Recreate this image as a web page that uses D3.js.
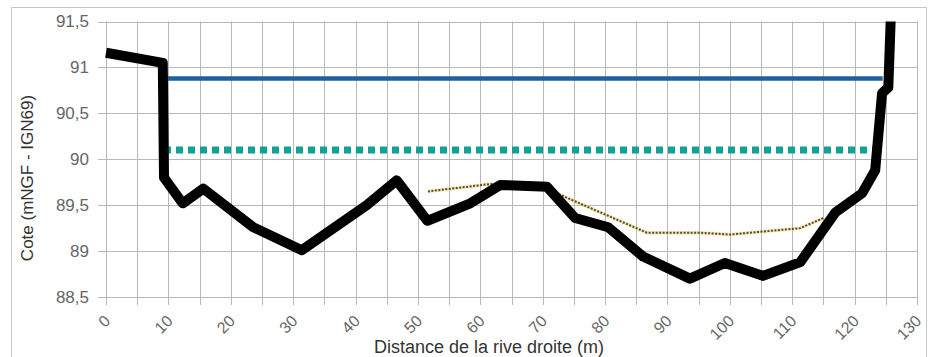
<!DOCTYPE html>
<html>
<head>
<meta charset="utf-8">
<script src="https://cdn.jsdelivr.net/npm/d3@7"></script>
<style>
  html, body { margin: 0; padding: 0; background: #fff; }
  svg { display: block; font-family: "Liberation Sans", Arial, sans-serif; }
</style>
</head>
<body>
<svg id="chart" width="933" height="357"></svg>
<script>
// ---- Data ----
const groundDist = [0, 9.1, 9.3, 12.3, 15.6, 23.6, 31.4, 41.8, 46.6, 51.5, 58.4, 63.2, 70.7, 75.2, 80.5, 86.1, 93.6, 99.2, 105.3, 111.3, 116.9, 121.2, 123.3, 124.4, 125.4, 125.8];
const groundElev = [91.16, 91.05, 89.80, 89.52, 89.68, 89.26, 89.01, 89.50, 89.77, 89.33, 89.52, 89.72, 89.70, 89.36, 89.26, 88.94, 88.70, 88.87, 88.73, 88.88, 89.42, 89.63, 89.88, 90.72, 90.78, 91.55];

const level1Dist = [9.3, 124.5];
const level1Elev = [90.88, 90.88];

const level2Dist = [9.3, 123.0];
const level2Elev = [90.10, 90.10];

const waterDist = [51.6, 61.6, 66.0, 70.0, 73.9, 86.7, 95.2, 100.0, 111.3, 115.0];
const waterElev = [89.65, 89.73, 89.73, 89.70, 89.58, 89.20, 89.20, 89.18, 89.25, 89.36];

const xTicks = [0, 10, 20, 30, 40, 50, 60, 70, 80, 90, 100, 110, 120, 130];
const yTicks = [88.5, 89, 89.5, 90, 90.5, 91, 91.5];
const xTitle = "Distance de la rive droite (m)";
const yTitle = "Cote (mNGF - IGN69)";

// ---- Layout ----
const svg = d3.select("#chart");
const pLeft = 106, pRight = 917, pTop = 21.5, pBottom = 297;

const x = d3.scaleLinear().domain([0, 130]).range([pLeft, pRight]);
const y = d3.scaleLinear().domain([88.5, 91.5]).range([pBottom, pTop]);

const fmt = v => String(v).replace(".", ",");

// outer frame
svg.append("rect")
  .attr("x", 11.5).attr("y", 7.5).attr("width", 915).attr("height", 360)
  .attr("fill", "none").attr("stroke", "#c8c8c8").attr("stroke-width", 1);

// grid
const gridColor = "#b8b8b8";
const xGrid = d3.range(0, 131, 5);
svg.append("g").selectAll("line").data(xGrid).join("line")
  .attr("x1", d => Math.round(x(d)) + 0.5).attr("x2", d => Math.round(x(d)) + 0.5)
  .attr("y1", pTop).attr("y2", pBottom + 8)
  .attr("stroke", gridColor).attr("stroke-width", 1);

svg.append("g").selectAll("line").data(yTicks).join("line")
  .attr("x1", pLeft - 8).attr("x2", pRight)
  .attr("y1", d => Math.round(y(d)) + 0.5).attr("y2", d => Math.round(y(d)) + 0.5)
  .attr("stroke", gridColor).attr("stroke-width", 1);

// y axis labels
const yAxis = d3.axisLeft(y).tickValues(yTicks).tickFormat(fmt).tickSize(0).tickPadding(17);
const gy = svg.append("g").attr("transform", `translate(${pLeft},0)`).call(yAxis);
gy.select(".domain").remove();
gy.selectAll("text").attr("font-size", 17).attr("fill", "#666").attr("font-family", "Liberation Sans, Arial, sans-serif");

// x axis labels
const xAxis = d3.axisBottom(x).tickValues(xTicks).tickFormat(d => d).tickSize(0).tickPadding(0);
const gx = svg.append("g").attr("transform", `translate(0,${pBottom})`).call(xAxis);
gx.select(".domain").remove();
gx.selectAll("text")
  .attr("font-size", 16).attr("fill", "#666").attr("font-family", "Liberation Sans, Arial, sans-serif")
  .attr("text-anchor", "end").attr("dy", null).attr("y", 0)
  .attr("dominant-baseline", "central")
  .attr("transform", "translate(1,21) rotate(-45)");

// titles
svg.append("text")
  .attr("x", 489).attr("y", 353)
  .attr("text-anchor", "middle").attr("font-size", 18).attr("fill", "#333")
  .text(xTitle);
svg.append("text")
  .attr("transform", "translate(33,178) rotate(-90)")
  .attr("text-anchor", "middle").attr("font-size", 17).attr("fill", "#333")
  .text(yTitle);

// clip
svg.append("clipPath").attr("id", "plot").append("rect")
  .attr("x", pLeft - 10).attr("y", pTop).attr("width", pRight - pLeft + 20).attr("height", pBottom - pTop + 10);

const line = d3.line().x(d => x(d[0])).y(d => y(d[1]));
const g = svg.append("g").attr("clip-path", "url(#plot)");

g.append("path").datum(d3.zip(level1Dist, level1Elev))
  .attr("d", line).attr("fill", "none").attr("stroke", "#1f5f9e").attr("stroke-width", 4.5);

g.append("path").datum(d3.zip(level2Dist, level2Elev))
  .attr("d", line).attr("fill", "none").attr("stroke", "#12a193").attr("stroke-width", 7)
  .attr("stroke-dasharray", "7,5");

g.append("path").datum(d3.zip(waterDist, waterElev))
  .attr("d", line).attr("fill", "none").attr("stroke", "#e8d27a").attr("stroke-width", 3.5).attr("opacity", 0.5);
g.append("path").datum(d3.zip(waterDist, waterElev))
  .attr("d", line).attr("fill", "none").attr("stroke", "#5b4b20").attr("stroke-width", 2)
  .attr("stroke-dasharray", "2,1.5");

g.append("path").datum(d3.zip(groundDist, groundElev))
  .attr("d", line).attr("fill", "none").attr("stroke", "#000").attr("stroke-width", 10)
  .attr("stroke-linejoin", "round");
</script>
</body>
</html>
